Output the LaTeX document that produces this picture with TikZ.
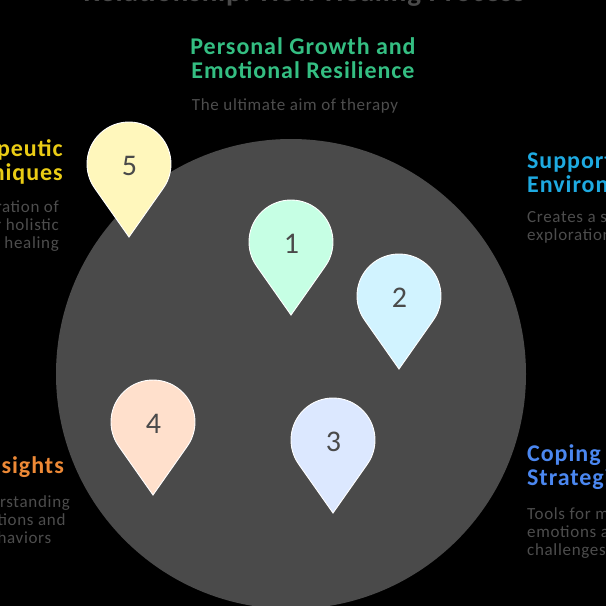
\documentclass[tikz,border=0pt]{standalone}
\usepackage{fontspec}
\setmainfont{Carlito}
\definecolor{discgray}{HTML}{4A4A4A}
\definecolor{notegray}{HTML}{4D4D4D}
\definecolor{growthgreen}{HTML}{34BE82}
\definecolor{techyellow}{HTML}{EACC15}
\definecolor{insightorange}{HTML}{ED8936}
\definecolor{supportblue}{HTML}{1EAAE1}
\definecolor{copingblue}{HTML}{4B87F0}
\definecolor{pinone}{HTML}{C6FFE4}
\definecolor{pintwo}{HTML}{D1F3FF}
\definecolor{pinthree}{HTML}{DCE8FF}
\definecolor{pinfour}{HTML}{FFE0CC}
\definecolor{pinfive}{HTML}{FFF7BC}
\tikzset{
  headtext/.style={font=\fontsize{24pt}{24pt}\selectfont\bfseries\addfontfeatures{LetterSpace=4}, inner sep=0pt},
  bodytext/.style={font=\fontsize{17pt}{18pt}\selectfont\addfontfeatures{LetterSpace=4}, text=notegray, inner sep=0pt},
  pinlabel/.style={font=\fontsize{30pt}{30pt}\selectfont, text=discgray, inner sep=0pt},
  pinedge/.style={draw=white, line width=0.9pt}
}
\begin{document}
\begin{tikzpicture}[x=1pt,y=1pt]
  \useasboundingbox[fill=black] (0,0) rectangle (606,-606);
  \clip (0,0) rectangle (606,-606);
  \fill[discgray] (291,-374) circle (235);
  % title, cut by the top edge
  \node[font=\fontsize{29pt}{29pt}\selectfont\bfseries\addfontfeatures{LetterSpace=3}, text=discgray, anchor=base] (title) at (304,-1) {Relationship: How Healing Process};
  % top label
  \node[headtext, text=growthgreen, align=center] (growth) at (303,-58) {Personal Growth and\\Emotional Resilience};
  \node[bodytext, align=center] (growthnote) at (295,-106) {The ultimate aim of therapy};
  % left labels
  \node[headtext, text=techyellow, align=right, anchor=east] (technique) at (63,-161.5) {Therapeutic\\Techniques};
  \node[bodytext, align=right, anchor=east] (techniquenote) at (59,-226) {Integration of\\methods for holistic\\healing};
  \node[headtext, text=insightorange, anchor=east] (insight) at (64,-467.5) {Insights};
  \node[bodytext, align=center] (insightnote) at (15,-520) {Understanding\\emotions and\\behaviors};
  % right labels
  \node[headtext, text=supportblue, align=left, anchor=west] (support) at (527,-172.5) {Supportive\\Environment};
  \node[bodytext, align=left, anchor=west] (supportnote) at (527,-227) {Creates a safe space for\\exploration};
  \node[headtext, text=copingblue, align=left, anchor=west] (coping) at (527,-467.5) {Coping\\Strategies};
  \node[bodytext, align=left, anchor=west] (copingnote) at (527,-533) {Tools for managing\\emotions and\\challenges};
  % markers
  \foreach \cx/\cy/\num/\tint in {291/-242/1/pinone, 399/-296/2/pintwo, 333/-440/3/pinthree, 153/-422/4/pinfour, 129/-164/5/pinfive}{
    \draw[pinedge, fill=\tint] (\cx,\cy) ++(-35.1:42) arc (-35.1:215.1:42) -- (\cx,\cy-73) -- cycle;
    \node[pinlabel] (pin\num) at (\cx+0.5,\cy-2) {\num};
  }
\end{tikzpicture}
\end{document}
